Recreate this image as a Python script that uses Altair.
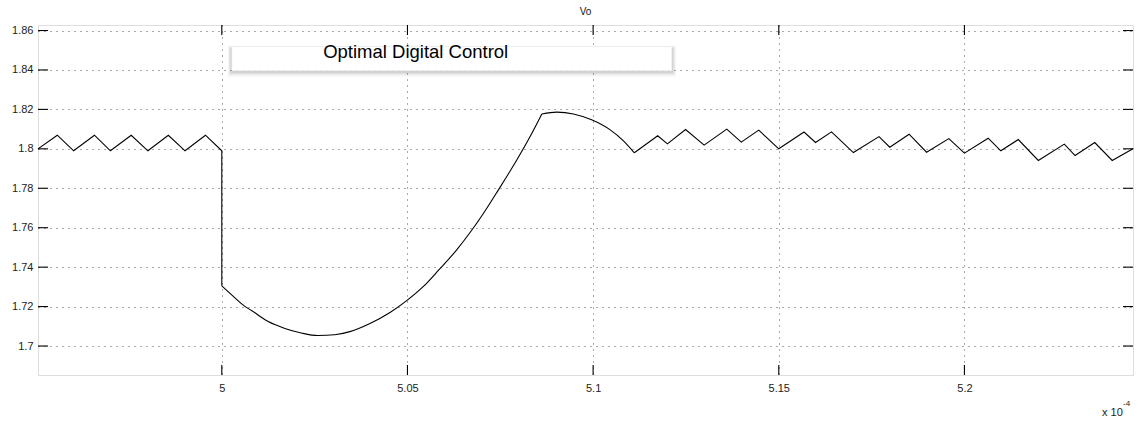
import altair as alt
import pandas as pd

# time axis in units of 1e-4 s
t_pre = [4.9505, 4.9557, 4.9601, 4.9657, 4.9700, 4.9756, 4.9801, 4.9856, 4.9901, 4.9956,
         5.0000, 5.0000]
vo_pre = [1.8000, 1.8069, 1.7990, 1.8069, 1.7990, 1.8069, 1.7990, 1.8069, 1.7990, 1.8069,
          1.7990, 1.7305]
t_dip = [5.0000, 5.0031, 5.0063, 5.0080, 5.0125, 5.0170, 5.0214, 5.0259, 5.0304, 5.0345,
         5.0399, 5.0453, 5.0498, 5.0543, 5.0585, 5.0631, 5.0673, 5.0704, 5.0745, 5.0794,
         5.0830, 5.0862]
vo_dip = [1.7305, 1.7252, 1.7200, 1.7180, 1.7124, 1.7089, 1.7066, 1.7053, 1.7057, 1.7073,
          1.7114, 1.7170, 1.7230, 1.7302, 1.7387, 1.7484, 1.7587, 1.7671, 1.7792, 1.7942,
          1.8061, 1.8177]
t_top = [5.0862, 5.0902, 5.0947, 5.0996, 5.1046, 5.1081, 5.1111]
vo_top = [1.8177, 1.8186, 1.8177, 1.8147, 1.8096, 1.8042, 1.7980]
t_post = [5.1111, 5.1174, 5.1200, 5.1249, 5.1299, 5.1360, 5.1399, 5.1446, 5.1500, 5.1568,
          5.1599, 5.1642, 5.1701, 5.1770, 5.1799, 5.1851, 5.1898, 5.1958, 5.2000, 5.2064,
          5.2098, 5.2145, 5.2199, 5.2269, 5.2298, 5.2351, 5.2398, 5.2455]
vo_post = [1.7980, 1.8066, 1.8025, 1.8098, 1.8019, 1.8100, 1.8034, 1.8095, 1.8000, 1.8085,
           1.8032, 1.8086, 1.7981, 1.8062, 1.8008, 1.8074, 1.7983, 1.8052, 1.7978, 1.8054,
           1.7990, 1.8047, 1.7941, 1.8024, 1.7966, 1.8032, 1.7941, 1.8002]

y_ticks = [1.7, 1.72, 1.74, 1.76, 1.78, 1.8, 1.82, 1.84, 1.86]
x_ticks = [5, 5.05, 5.1, 5.15, 5.2]
x_domain = [4.9505, 5.2454]
y_domain = [1.6853, 1.8628]

title_text = "Vo"
legend_label = "Optimal Digital Control"
legend_box_t = [5.0027, 5.1212]
legend_box_v = [1.8518, 1.8396]
legend_text_pos = [5.0273, 1.8491]
exp_base = "x 10"
exp_power = "-4"

W, H = 1095, 350
TICK_PX = 10
FONT = "Liberation Sans"

dx = (x_domain[1] - x_domain[0]) / W * TICK_PX
dy = (y_domain[1] - y_domain[0]) / H * TICK_PX


def seg_df(ts, vs, name):
    return pd.DataFrame({"t": ts, "vo": vs, "seg": name, "idx": list(range(len(ts)))})


lin_df = pd.concat([seg_df(t_pre, vo_pre, "pre"), seg_df(t_post, vo_post, "post")], ignore_index=True)
smooth_df = pd.concat([seg_df(t_dip, vo_dip, "dip"), seg_df(t_top, vo_top, "top")], ignore_index=True)

ytick_df = pd.DataFrame({
    "vo": y_ticks + y_ticks,
    "t": [x_domain[0]] * len(y_ticks) + [x_domain[1] - dx] * len(y_ticks),
    "t2": [x_domain[0] + dx] * len(y_ticks) + [x_domain[1]] * len(y_ticks),
})
xtick_df = pd.DataFrame({
    "t": x_ticks + x_ticks,
    "vo": [y_domain[0]] * len(x_ticks) + [y_domain[1] - dy] * len(x_ticks),
    "vo2": [y_domain[0] + dy] * len(x_ticks) + [y_domain[1]] * len(x_ticks),
})
box = pd.DataFrame({"t": [legend_box_t[0]], "t2": [legend_box_t[1]],
                    "vo": [legend_box_v[0]], "vo2": [legend_box_v[1]]})
lab = pd.DataFrame({"t": [legend_text_pos[0]], "vo": [legend_text_pos[1]], "label": [legend_label]})

xs = alt.Scale(domain=x_domain, nice=False, zero=False)
ys = alt.Scale(domain=y_domain, nice=False, zero=False)

grid_kw = dict(grid=True, gridDash=[1, 5], gridColor="#555", gridWidth=1, ticks=False,
               domain=False, labelFont=FONT, labelFontSize=11, labelColor="#222", title=None,
               format="~g")

line = alt.Chart(lin_df).mark_line(color="black", strokeWidth=1.1).encode(
    x=alt.X("t:Q", scale=xs, axis=alt.Axis(values=x_ticks, labelPadding=7, **grid_kw)),
    y=alt.Y("vo:Q", scale=ys, axis=alt.Axis(values=y_ticks, labelPadding=5, **grid_kw)),
    detail="seg:N",
    order="idx:Q",
)
curve = alt.Chart(smooth_df).mark_line(color="black", strokeWidth=1.1, interpolate="monotone").encode(
    x=alt.X("t:Q", scale=xs),
    y=alt.Y("vo:Q", scale=ys),
    detail="seg:N",
    order="idx:Q",
)

yticks = alt.Chart(ytick_df).mark_rule(color="black", strokeWidth=1.1).encode(
    x=alt.X("t:Q", scale=xs), x2="t2", y=alt.Y("vo:Q", scale=ys))
xticks = alt.Chart(xtick_df).mark_rule(color="black", strokeWidth=1.1).encode(
    x=alt.X("t:Q", scale=xs), y=alt.Y("vo:Q", scale=ys), y2="vo2")


def rect_layer(**mk):
    return alt.Chart(box).mark_rect(**mk).encode(
        x=alt.X("t:Q", scale=xs), x2="t2", y=alt.Y("vo:Q", scale=ys), y2="vo2")


sh1 = rect_layer(color="black", opacity=0.04, xOffset=-4, x2Offset=4, yOffset=-1, y2Offset=6)
sh2 = rect_layer(color="black", opacity=0.06, xOffset=-3, x2Offset=3, yOffset=0, y2Offset=4)
sh3 = rect_layer(color="black", opacity=0.09, xOffset=-1.5, x2Offset=1.5, yOffset=1, y2Offset=2.5)
boxr = rect_layer(color="white", stroke="#e6e6e6", strokeWidth=0.5)

legtxt = alt.Chart(lab).mark_text(align="left", baseline="middle", font=FONT, fontSize=18.5,
                                  color="black").encode(
    x=alt.X("t:Q", scale=xs), y=alt.Y("vo:Q", scale=ys), text="label:N")

ttl = alt.Chart(pd.DataFrame({"label": [title_text]})).mark_text(
    align="center", baseline="middle", font=FONT, fontSize=10, color="#111").encode(
    x=alt.value(W / 2), y=alt.value(-13), text="label:N")
e1 = alt.Chart(pd.DataFrame({"label": [exp_base]})).mark_text(
    align="left", baseline="middle", font=FONT, fontSize=11, color="#222").encode(
    x=alt.value(W - 31), y=alt.value(H + 38), text="label:N")
e2 = alt.Chart(pd.DataFrame({"label": [exp_power]})).mark_text(
    align="left", baseline="middle", font=FONT, fontSize=8, color="#222").encode(
    x=alt.value(W - 10), y=alt.value(H + 29), text="label:N")

chart = alt.layer(line, curve, yticks, xticks, sh1, sh2, sh3, boxr, legtxt, ttl, e1, e2).properties(
    width=W, height=H,
    autosize=alt.AutoSizeParams(type="none"),
    padding={"left": 38, "top": 25, "right": 8, "bottom": 47},
).configure_view(stroke="black", strokeWidth=1).configure(background="white")

chart.save("out.html", embed_options={"renderer": "svg", "actions": False})
